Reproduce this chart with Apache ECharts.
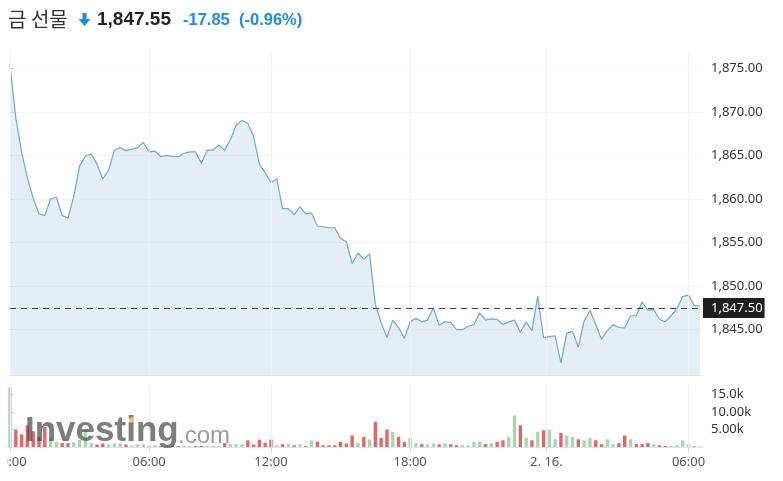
<!DOCTYPE html>
<html><head><meta charset="utf-8">
<script src="https://cdn.jsdelivr.net/npm/echarts@6/dist/echarts.min.js"></script>
<style>html,body{margin:0;padding:0;background:#fff}#c{width:783px;height:481px}</style>
</head><body><div id="c"></div>
<script>
// ---- data ----
const prices = [
1875.4,1869.3,1865.4,1862.4,1860.1,1858.3,1858.1,1860.0,1860.2,1858.1,
1857.8,1860.3,1863.8,1864.9,1865.2,1864.0,1862.3,1863.3,1865.6,1865.9,
1865.55,1865.7,1865.9,1866.5,1865.4,1865.5,1864.85,1865.0,1864.9,1864.85,
1865.25,1865.4,1865.4,1864.1,1865.6,1865.6,1866.2,1865.6,1866.8,1868.5,
1869.0,1868.7,1867.2,1864.0,1863.0,1861.9,1862.3,1858.9,1858.9,1858.2,
1859.1,1858.3,1858.4,1856.9,1856.8,1856.7,1856.7,1855.5,1855.1,1852.6,
1853.8,1853.1,1853.7,1847.9,1845.8,1844.1,1846.1,1845.25,1844.0,1845.9,
1846.3,1845.9,1846.1,1847.5,1845.5,1845.9,1845.85,1845.0,1845.0,1845.4,
1845.6,1846.9,1846.1,1846.25,1846.2,1845.6,1845.9,1846.1,1844.7,1845.9,
1844.9,1848.85,1844.1,1844.2,1844.3,1841.2,1844.6,1844.8,1843.0,1846.0,
1847.2,1845.6,1843.9,1844.9,1845.6,1845.25,1845.2,1846.6,1846.6,1848.2,
1847.25,1847.3,1846.2,1845.9,1846.6,1847.4,1848.8,1849.0,1847.75,1847.75];
const volumes = [ // thousands
17,5.0,3.6,6.2,4.5,2.9,5.7,2.4,1.4,1.1,
1.1,1.4,2.0,4.8,1.1,0.7,1.0,0.8,1.0,1.0,
0.7,0.4,0.7,0.8,0.2,0.5,0.3,0.4,0.3,0.3,
0.4,0.3,0.3,0.3,0.3,0.3,0.3,1.1,0.8,0.8,
0.8,1.9,0.7,2.1,1.2,2.1,0.5,0.8,0.8,0.5,
0.8,0.3,1.9,1.5,0.5,0.5,0.5,1.5,1.0,3.3,
1.1,2.9,2.2,7.2,2.6,5.0,4.3,2.9,1.4,2.6,
1.1,0.8,0.8,1.0,0.8,1.1,0.8,0.5,0.5,0.5,
1.5,1.5,0.8,1.1,1.5,1.9,2.9,9.0,6.2,2.6,
1.9,4.3,4.8,5.0,2.2,4.0,3.3,2.9,2.2,1.9,
2.6,1.9,0.8,2.2,0.8,1.1,3.3,2.2,0.8,0.8,
1.1,0.8,0.5,0.3,0.3,0.5,1.9,0.8,0.2,0.1];
const volUp = [
1,0,0,0,0,0,0,1,1,0, 0,1,1,1,1,0,0,1,1,1,
0,1,1,1,0,1,0,1,0,0, 1,1,0,0,1,1,1,0,1,1,
1,0,0,0,0,0,1,0,1,0, 1,0,1,0,0,0,0,0,0,0,
1,0,1,0,0,0,1,0,0,1, 1,0,1,1,0,1,0,0,1,1,
1,1,0,1,0,0,1,1,0,1, 0,1,0,1,1,0,1,1,0,1,
1,0,0,1,1,0,0,1,0,0, 0,1,0,0,1,1,1,1,0,0];
const xTickPos = [0, 24, 45, 69, 92.5, 117];
const xTickLabels = ['00:00', '06:00', '12:00', '18:00', '2. 16.', '06:00'];
const yTicks = [1845, 1850, 1855, 1860, 1865, 1870, 1875];
const volTicks = [5, 10, 15];
const volTickLabels = ['5.00k', '10.00k', '15.0k'];
const lastPrice = 1847.50;
const titleName = '금 선물';
const titlePrice = '1,847.55';
const titleChange = '-17.85';
const titlePct = '(-0.96%)';

// ---- chart ----
const fmt = v => v.toLocaleString('en-US', {minimumFractionDigits: 2, maximumFractionDigits: 2});
const chart = echarts.init(document.getElementById('c'));
const GREEN = '#a3d8b2', RED = '#e26868';
const GRIDV = '#eef1f6';
const baseFont = 'Noto Sans';
const vLines = xTickPos.map(v => ({xAxis: v, lineStyle: {type: 'solid', color: GRIDV, width: 1}, label: {show: false}}));
chart.setOption({
  animation: false,
  grid: [
    {left: 10, right: 80, top: 50, height: 325, outerBoundsMode: 'none', containLabel: false},
    {left: 7.1, right: 80, top: 385, height: 62, outerBoundsMode: 'none', containLabel: false}
  ],
  xAxis: [
    {gridIndex: 0, type: 'value', min: 0, max: 119.5,
     axisLine: {show: true, lineStyle: {color: '#e0e3eb'}}, axisTick: {show: false}, axisLabel: {show: false},
     splitLine: {show: false}},
    {gridIndex: 1, type: 'category', boundaryGap: true, data: volumes.map((v, i) => i),
     axisLine: {show: true, lineStyle: {color: '#e0e3eb'}}, axisTick: {show: false}, axisLabel: {show: false},
     splitLine: {show: false}},
    {gridIndex: 1, type: 'value', min: -0.5, max: 119.5, position: 'bottom',
     axisLine: {show: false},
     axisTick: {show: true, customValues: xTickPos, length: 5, lineStyle: {color: '#cfd3dc'}},
     axisLabel: {customValues: xTickPos, color: '#555', fontSize: 13, fontFamily: baseFont, margin: 9,
       formatter: v => xTickLabels[xTickPos.indexOf(v)] ?? ''},
     splitLine: {show: false}}
  ],
  yAxis: [
    {gridIndex: 0, type: 'value', position: 'right', min: 1839.8, max: 1877.1,
     axisLine: {show: true, lineStyle: {color: '#e0e3eb'}},
     axisTick: {show: true, customValues: yTicks, length: 4, lineStyle: {color: '#cfd3dc'}},
     axisLabel: {customValues: yTicks, color: '#333', fontSize: 13, fontFamily: baseFont, margin: 8, formatter: v => fmt(v)},
     splitLine: {show: true, lineStyle: {color: '#f1f3f6'}}},
    {gridIndex: 1, type: 'value', position: 'right', min: 0, max: 17.7,
     axisLine: {show: true, lineStyle: {color: '#e0e3eb'}},
     axisTick: {show: true, customValues: volTicks, length: 4, lineStyle: {color: '#cfd3dc'}},
     axisLabel: {customValues: volTicks, color: '#333', fontSize: 13, fontFamily: baseFont, margin: 8,
       formatter: v => volTickLabels[volTicks.indexOf(v)] ?? ''},
     splitLine: {show: false}}
  ],
  series: [
    {type: 'line', xAxisIndex: 0, yAxisIndex: 0, symbol: 'none', z: 3,
     data: prices.map((p, i) => [i, p]),
     lineStyle: {color: '#6ea7d8', width: 1.2},
     areaStyle: {color: '#cfdfec', origin: 'start', opacity: 0.55},
     markLine: {silent: true, symbol: ['none', 'none'], animation: false,
       data: vLines.concat([{yAxis: lastPrice,
         lineStyle: {type: [6, 5], color: '#444', width: 1},
         label: {show: true, position: 'end', formatter: () => fmt(lastPrice), backgroundColor: '#1f1f1f', color: '#fff',
                 padding: [4, 2, 3, 8], fontSize: 13, fontFamily: baseFont, distance: 0}}])}},
    {type: 'line', xAxisIndex: 2, yAxisIndex: 1, data: [], symbol: 'none',
     markLine: {silent: true, symbol: ['none', 'none'], animation: false, data: vLines}},
    {type: 'bar', xAxisIndex: 1, yAxisIndex: 1, barWidth: 3.4, z: 3,
     data: volumes.map((v, i) => ({value: v, itemStyle: {color: volUp[i] ? GREEN : RED}}))}
  ],
  graphic: [
    {type: 'text', left: 8, top: 9, style: {text: titleName, fontSize: 20, fill: '#333', fontFamily: 'Noto Sans CJK KR'}},
    {type: 'polygon', shape: {points: [[82.5, 13], [86.5, 13], [86.5, 19], [90.5, 19], [84.5, 26], [78.5, 19], [82.5, 19]]},
     style: {fill: '#1a8ee0'}},
    {type: 'text', left: 97, top: 10, style: {text: titlePrice, fontSize: 19, fontWeight: 'bold', fill: '#222', fontFamily: 'Liberation Sans'}},
    {type: 'text', left: 183, top: 12, style: {text: titleChange, fontSize: 16.5, fontWeight: 'bold', fill: '#1a8ee0', fontFamily: 'Liberation Sans'}},
    {type: 'text', left: 239, top: 12, style: {text: titlePct, fontSize: 16.5, fontWeight: 'bold', fill: '#1a8ee0', fontFamily: 'Liberation Sans'}},
    {type: 'text', left: 25, top: 414, z: 100, style: {text: 'Investing', fontSize: 35, fontWeight: 'bold', fill: 'rgba(75,75,75,0.72)', fontFamily: 'Liberation Sans'}},
    {type: 'text', left: 178, top: 424, z: 100, style: {text: '.com', fontSize: 24, fill: 'rgba(90,90,90,0.6)', fontFamily: 'Liberation Sans'}},
    {type: 'polygon', z: 101, shape: {points: [[129, 418], [134, 416], [134, 422], [129, 423]]}, style: {fill: 'rgba(245,180,70,0.75)'}},
    {type: 'rect', z: 102, shape: {x: 0, y: 453, width: 7.5, height: 22}, style: {fill: '#fff'}}
  ]
});
</script></body></html>
